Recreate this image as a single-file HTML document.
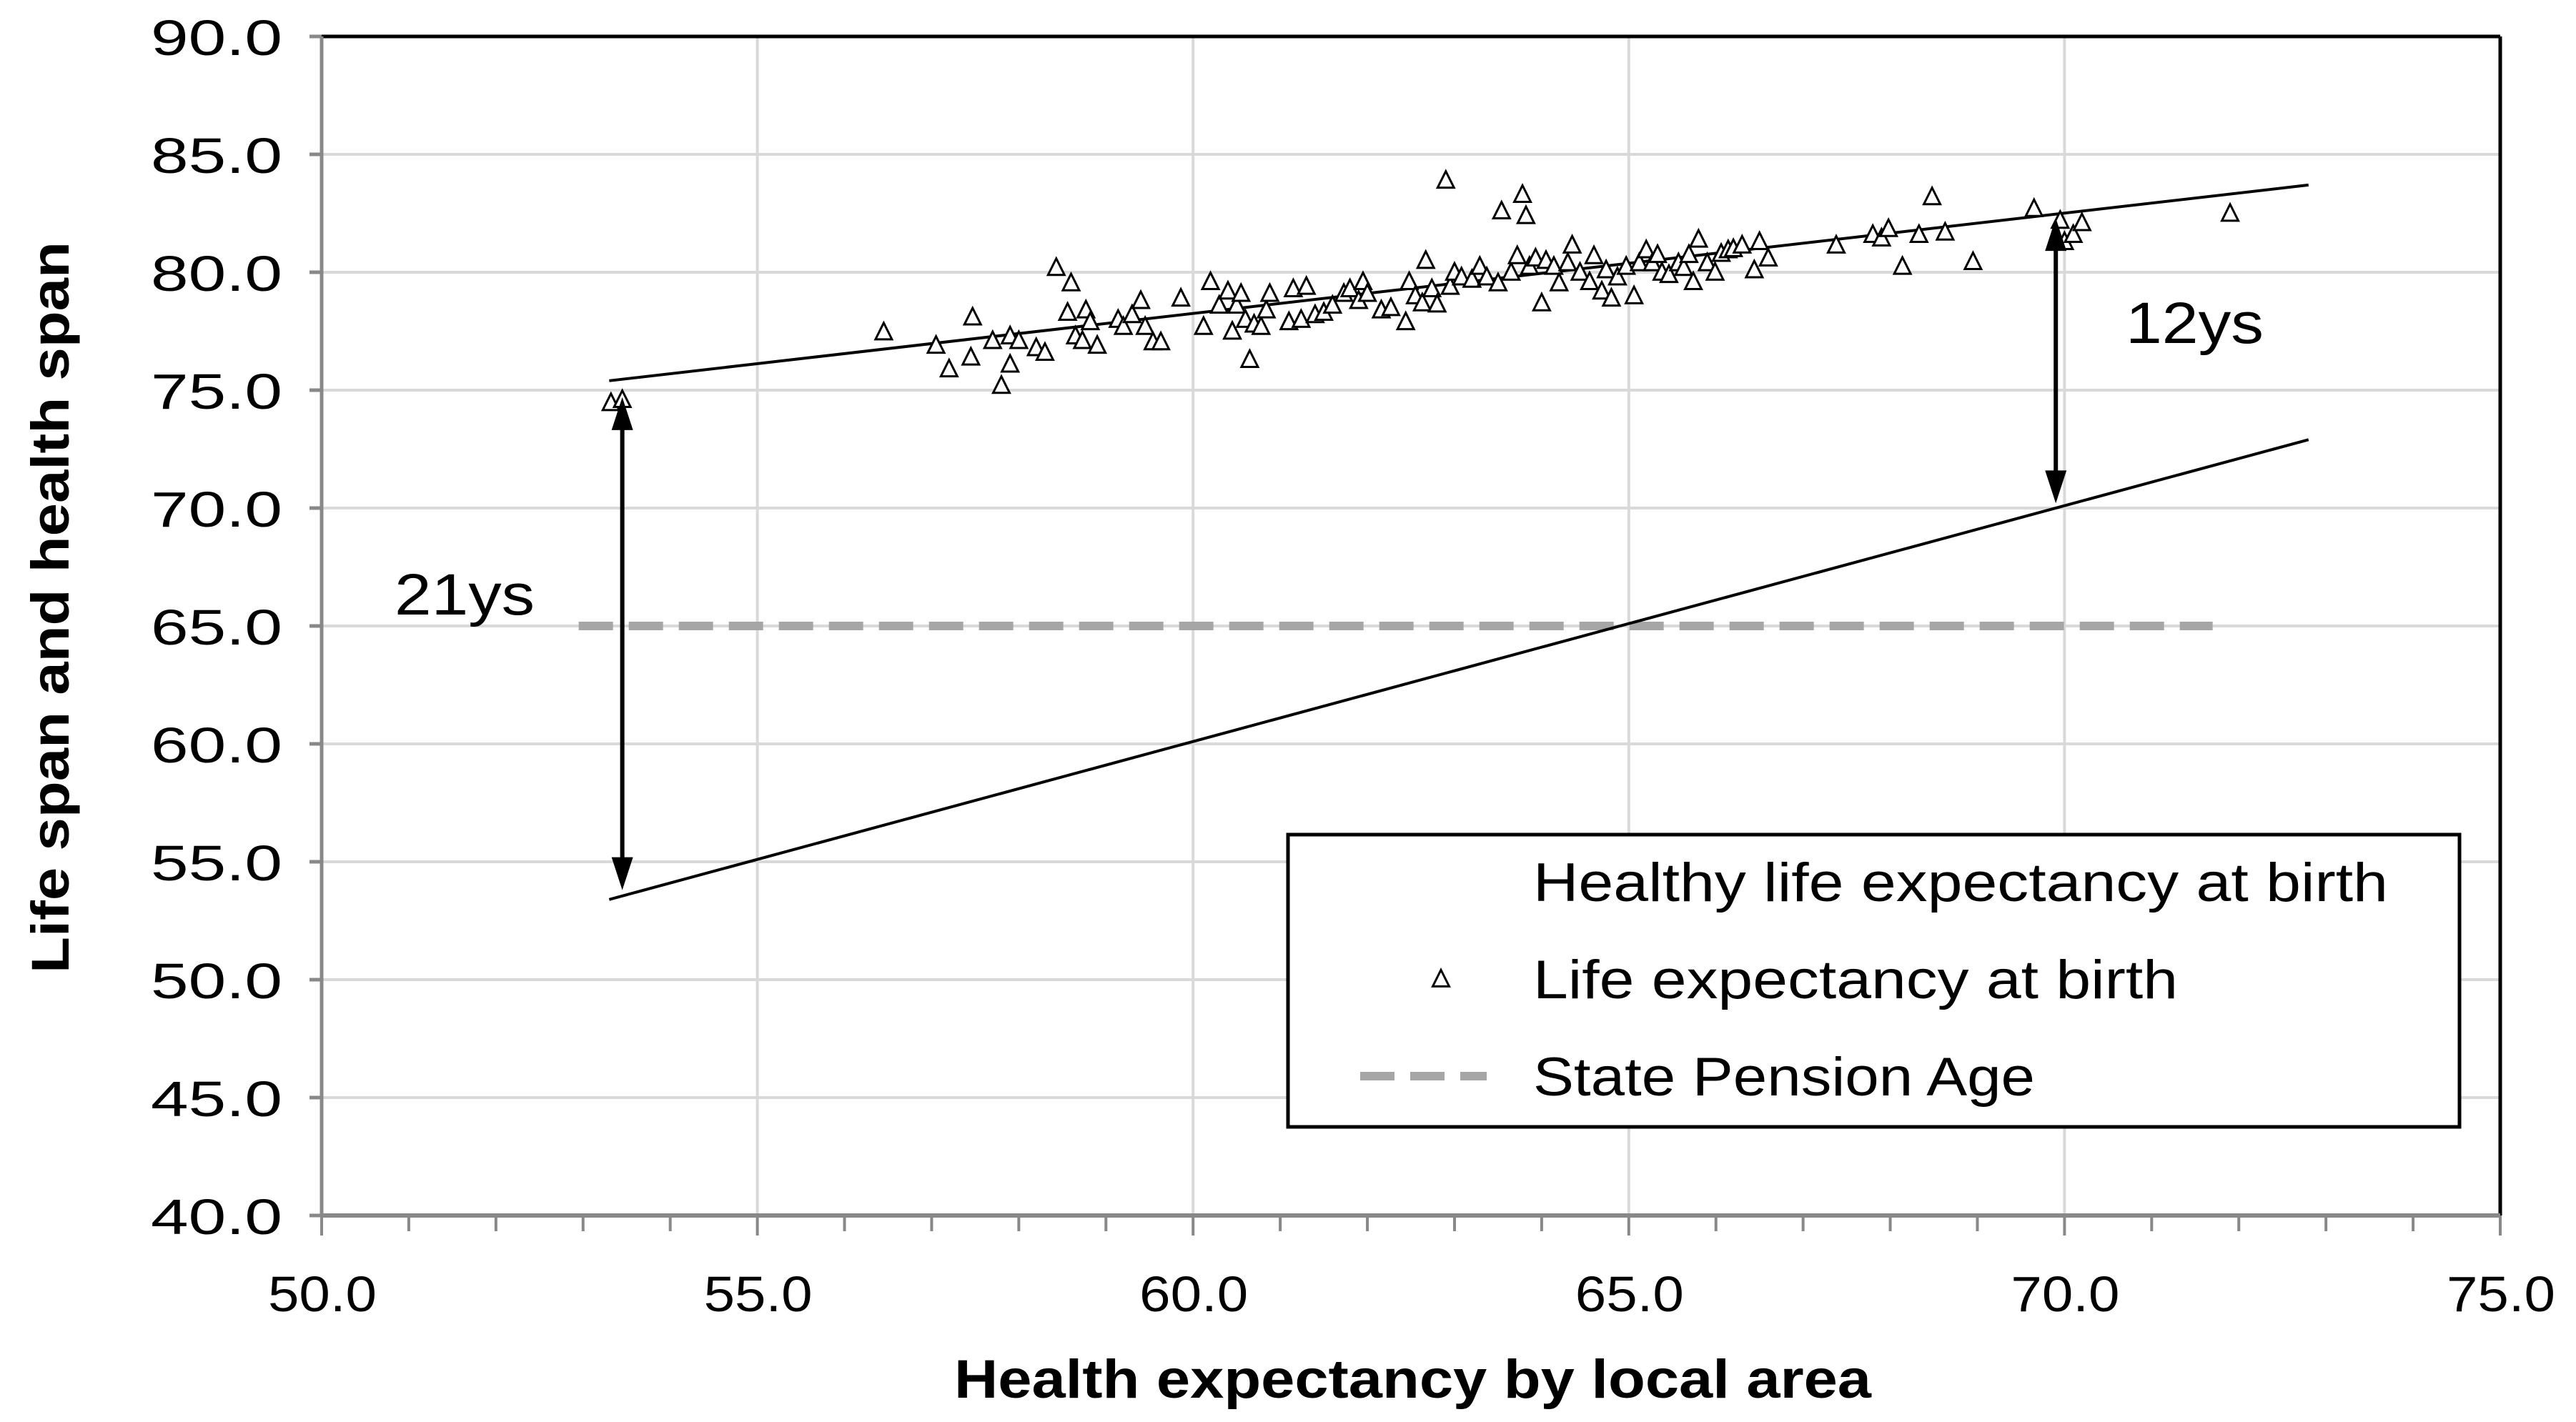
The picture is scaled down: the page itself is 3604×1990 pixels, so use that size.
<!DOCTYPE html>
<html><head><meta charset="utf-8"><style>
html,body{margin:0;padding:0;background:#fff;}
svg{display:block;font-family:"Liberation Sans",sans-serif;}
</style></head><body>
<svg id="chart" width="3604" height="1990" viewBox="0 0 3604 1990" xmlns="http://www.w3.org/2000/svg">
<g id="grid"></g>
<g id="axes"></g>
<g id="series"></g>
<g id="annot"></g>
<g id="legend"></g>
</svg>
<script>
const xTicks = [50,55,60,65,70,75];
const yTicks = [40,45,50,55,60,65,70,75,80,85,90];
const lifeX = [53.32,53.45,56.45,57.05,57.2,57.47,57.45,57.7,57.8,57.9,57.9,58.0,58.2,58.3,58.43,58.56,58.6,58.65,58.73,58.77,58.82,58.9,59.14,59.2,59.3,59.4,59.45,59.54,59.63,59.86,60.12,60.2,60.3,60.4,60.45,60.5,60.55,60.6,60.65,60.7,60.78,60.84,60.88,61.1,61.15,61.24,61.3,61.4,61.5,61.6,61.73,61.8,61.9,61.95,62.0,62.16,62.27,62.44,62.48,62.55,62.63,62.67,62.74,62.8,62.9,62.95,63.0,63.08,63.2,63.29,63.37,63.5,63.54,63.65,63.72,63.78,63.82,63.86,63.93,64.0,64.05,64.14,64.2,64.3,64.35,64.44,64.55,64.6,64.69,64.74,64.8,64.87,64.97,65.06,65.12,65.2,65.27,65.33,65.38,65.46,65.57,65.63,65.69,65.74,65.8,65.9,65.99,66.06,66.14,66.2,66.3,66.44,66.5,66.6,67.38,67.8,67.9,67.98,68.14,68.33,68.48,68.63,68.95,69.65,69.95,70.0,70.1,70.2,71.9];
const lifeY = [74.47,74.6,77.47,76.9,75.9,78.1,76.4,77.1,75.2,76.1,77.3,77.1,76.8,76.6,80.2,78.3,79.55,77.3,77.1,78.4,77.9,76.9,78.0,77.7,78.2,78.8,77.7,77.05,77.05,78.9,77.7,79.6,78.6,79.2,77.5,78.6,79.1,78.0,76.3,77.8,77.7,78.4,79.1,77.9,79.3,78.0,79.4,78.2,78.3,78.6,79.1,79.3,78.8,79.6,79.1,78.4,78.5,77.9,79.6,79.0,78.7,80.5,79.3,78.65,83.9,79.4,80.0,79.8,79.7,80.25,79.8,79.55,82.6,80.0,80.7,83.3,82.4,80.25,80.6,78.7,80.5,80.25,79.55,80.4,81.15,80.0,79.6,80.7,79.2,80.1,78.9,79.8,80.25,79.0,80.4,80.95,80.4,80.75,80.0,79.9,80.4,80.2,80.75,79.6,81.4,80.4,80.0,80.8,80.95,81.0,81.15,80.1,81.3,80.6,81.15,81.6,81.45,81.85,80.25,81.6,83.2,81.7,80.45,82.7,82.2,81.3,81.6,82.1,82.5];
const lifeTrendX = [53.3,72.8];
const lifeTrendY = [75.4,83.7];
const healthyX = [53.3,72.8];
const healthyY = [53.4,72.9];
const pensionX = [52.95,71.7];
const pensionY = [65,65];
const gapLeft = [53.45,74.7,53.8];
const gapRight = [69.9,82.3,70.2];

const L=450,R=3498,T=51,B=1701;
const X0=50,X1=75,Y0=40,Y1=90;
const sx=v=>L+(v-X0)/(X1-X0)*(R-L);
const sy=v=>B-(v-Y0)/(Y1-Y0)*(B-T);
const NS="http://www.w3.org/2000/svg";
function mk(tag,parent,attrs){const e=document.createElementNS(NS,tag);for(const k in attrs)e.setAttribute(k,attrs[k]);parent.appendChild(e);return e;}
const grid=document.getElementById('grid'),axes=document.getElementById('axes'),series=document.getElementById('series'),annot=document.getElementById('annot'),legend=document.getElementById('legend');

yTicks.forEach(v=>{
  const g=mk('line',grid,{x1:L,x2:R,y1:sy(v),y2:sy(v),stroke:'#d9d9d9','stroke-width':4});
  
  
  const t=mk('line',axes,{x1:L-17,x2:L,y1:sy(v),y2:sy(v),stroke:'#888','stroke-width':5});
  
  
  const tx=mk('text',axes,{x:211,y:sy(v)+26,'font-size':70,fill:'#000',textLength:184,lengthAdjust:'spacingAndGlyphs'});
  tx.textContent=v.toFixed(1);
  
  
});
xTicks.forEach(v=>{
  const g=mk('line',grid,{x1:sx(v),x2:sx(v),y1:T,y2:B,stroke:'#d9d9d9','stroke-width':4});
  
  
  const tx=mk('text',axes,{x:sx(v)-75,y:1835,'font-size':70,fill:'#000',textLength:152,lengthAdjust:'spacingAndGlyphs'});
  tx.textContent=v.toFixed(1);
  
  
});
for(let v=X0;v<=X1;v++){
  const major=(v%5===0);
  const t=mk('line',axes,{x1:sx(v),x2:sx(v),y1:B,y2:B+(major?28:22),stroke:'#888','stroke-width':4});
  
  
}
let f;
f=mk('line',axes,{x1:L,x2:R,y1:T,y2:T,stroke:'#000','stroke-width':5});


f=mk('line',axes,{x1:R,x2:R,y1:T,y2:B,stroke:'#000','stroke-width':5});


f=mk('line',axes,{x1:L,x2:L,y1:T,y2:B,stroke:'#888','stroke-width':5});


f=mk('line',axes,{x1:L,x2:R,y1:B,y2:B,stroke:'#888','stroke-width':6});



let tt=mk('text',axes,{x:1335,y:1956,'font-size':76,'font-weight':'bold',fill:'#000',textLength:1283,lengthAdjust:'spacingAndGlyphs'});
tt.textContent='Health expectancy by local area';


tt=mk('text',axes,{x:-512,y:0,'font-size':74,'font-weight':'bold',fill:'#000',textLength:1024,lengthAdjust:'spacingAndGlyphs',transform:'translate(96,850) rotate(-90)'});
tt.textContent='Life span and health span';



let p=mk('line',series,{x1:sx(pensionX[0]),x2:sx(pensionX[1]),y1:sy(pensionY[0]),y2:sy(pensionY[1]),stroke:'#a6a6a6','stroke-width':12,'stroke-dasharray':'48 22'});


p=mk('line',series,{x1:sx(healthyX[0]),x2:sx(healthyX[1]),y1:sy(healthyY[0]),y2:sy(healthyY[1]),stroke:'#000','stroke-width':4});


p=mk('line',series,{x1:sx(lifeTrendX[0]),x2:sx(lifeTrendX[1]),y1:sy(lifeTrendY[0]),y2:sy(lifeTrendY[1]),stroke:'#000','stroke-width':4});


function tri(cx,cy,s){return `${cx},${cy-s*0.55} ${cx-s/2},${cy+s*0.45} ${cx+s/2},${cy+s*0.45}`;}
lifeX.forEach((v,i)=>{
  const m=mk('polygon',series,{points:tri(sx(v),sy(lifeY[i]),23),fill:'#fff',stroke:'#000','stroke-width':3});
  
  
});
function arrow(a,name){
  const x=sx(a[0]),y1=sy(a[1]),y2=sy(a[2]);
  const g=mk('g',annot,{});
  
  
  mk('line',g,{x1:x,x2:x,y1:y1+40,y2:y2-40,stroke:'#000','stroke-width':6});
  mk('polygon',g,{points:`${x},${y1} ${x-15},${y1+46} ${x+15},${y1+46}`,fill:'#000'});
  mk('polygon',g,{points:`${x},${y2} ${x-15},${y2-46} ${x+15},${y2-46}`,fill:'#000'});
}
arrow(gapLeft,'gap-arrow-left');
arrow(gapRight,'gap-arrow-right');
let a=mk('text',annot,{x:552,y:860,'font-size':82,fill:'#000',textLength:196,lengthAdjust:'spacingAndGlyphs'});
a.textContent='21ys';


a=mk('text',annot,{x:2974,y:480,'font-size':82,fill:'#000',textLength:193,lengthAdjust:'spacingAndGlyphs'});
a.textContent='12ys';



let lb=mk('rect',legend,{x:1802,y:1168,width:1639,height:409,fill:'#fff',stroke:'#000','stroke-width':5});


const legTexts=['Healthy life expectancy at birth','Life expectancy at birth','State Pension Age'];
const legLen=[1196,902,702];
const legY=[1234,1370,1506];
legTexts.forEach((s,i)=>{
  const t=mk('text',legend,{x:2145,y:legY[i]+27,'font-size':76,fill:'#000',textLength:legLen[i],lengthAdjust:'spacingAndGlyphs'});
  t.textContent=s;
  
  
});
let ls=mk('polygon',legend,{points:tri(2016,1370,23),fill:'#fff',stroke:'#000','stroke-width':3});


ls=mk('line',legend,{x1:1903,x2:2080,y1:1506,y2:1506,stroke:'#a6a6a6','stroke-width':12,'stroke-dasharray':'48 22'});


</script>
</body></html>
